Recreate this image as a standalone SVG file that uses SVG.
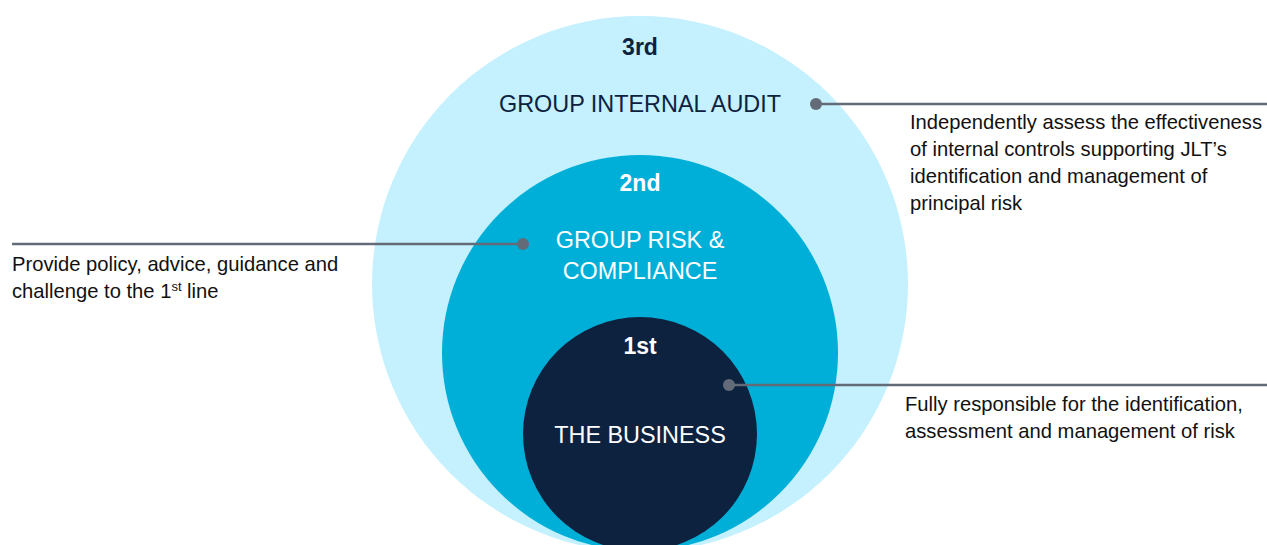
<svg xmlns="http://www.w3.org/2000/svg" width="1267" height="545" viewBox="0 0 1267 545">
<style>
.lbl{font-family:"Liberation Sans",Arial,sans-serif;text-anchor:middle}
.num{font-size:23px;font-weight:bold}
.name{font-size:23.4px}
.desc{font-family:"Liberation Sans",Arial,sans-serif;font-size:20.2px;fill:#111111}
.conn{stroke:#646B78;stroke-width:2.5;fill:none}
.dot{fill:#646B78}
</style>
<rect width="1267" height="545" fill="#ffffff"/>
<g id="third-line">
<circle cx="640" cy="284" r="268" fill="#C4F1FD"/>
<text class="lbl num" x="640" y="55" fill="#0D223F">3rd</text>
<text class="lbl name" x="640" y="112" fill="#0D223F">GROUP INTERNAL AUDIT</text>
</g>
<g id="second-line">
<circle cx="640" cy="353" r="198" fill="#00AFD8"/>
<text class="lbl num" x="640" y="191" fill="#ffffff">2nd</text>
<text class="lbl name" x="640" y="248" fill="#ffffff">GROUP RISK &amp;</text>
<text class="lbl name" x="640" y="279" fill="#ffffff">COMPLIANCE</text>
</g>
<g id="first-line">
<circle cx="640" cy="434" r="117" fill="#0D223F"/>
<text class="lbl num" x="640" y="354" fill="#ffffff">1st</text>
<text class="lbl name" x="640" y="443" fill="#ffffff">THE BUSINESS</text>
</g>
<g id="connectors">
<line class="conn" x1="816" y1="104" x2="1267" y2="104"/>
<circle class="dot" cx="816" cy="104" r="6"/>
<line class="conn" x1="12" y1="244" x2="523" y2="244"/>
<circle class="dot" cx="523" cy="244" r="6"/>
<line class="conn" x1="729" y1="385" x2="1267" y2="385"/>
<circle class="dot" cx="729" cy="385" r="6"/>
</g>
<g id="desc-third">
<text class="desc" x="910" y="129">Independently assess the effectiveness</text>
<text class="desc" x="910" y="156">of internal controls supporting JLT’s</text>
<text class="desc" x="910" y="183">identification and management of</text>
<text class="desc" x="910" y="210">principal risk</text>
</g>
<g id="desc-second">
<text class="desc" x="12" y="271">Provide policy, advice, guidance and</text>
<text class="desc" x="12" y="298">challenge to the 1<tspan font-size="13" dy="-7">st</tspan><tspan dy="7"> line</tspan></text>
</g>
<g id="desc-first">
<text class="desc" x="905" y="411">Fully responsible for the identification,</text>
<text class="desc" x="905" y="438">assessment and management of risk</text>
</g>
</svg>
